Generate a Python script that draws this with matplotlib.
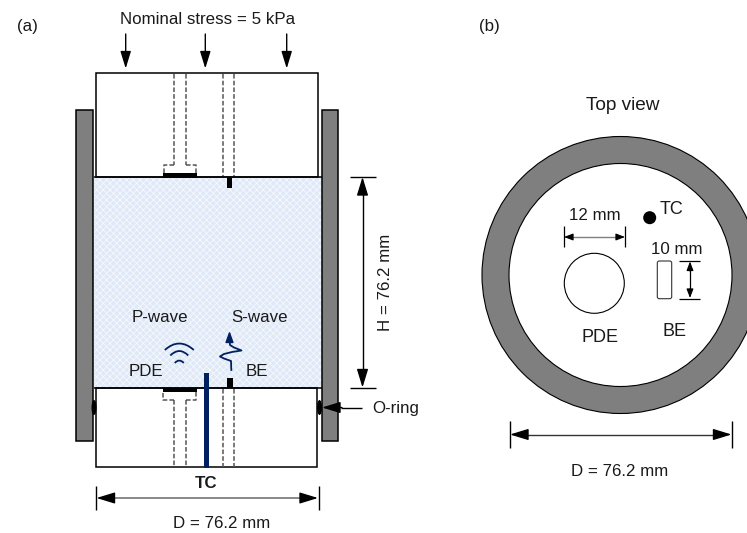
import matplotlib
matplotlib.use('Agg')
from matplotlib import pyplot as plt
from matplotlib.patches import Rectangle, Circle, Ellipse, FancyBboxPatch, PathPatch
from matplotlib.path import Path

plt.rcParams['font.family'] = ['Liberation Sans', 'DejaVu Sans']
plt.rcParams['hatch.linewidth'] = 0.6

# labels of the drawing
stress_label = 'Nominal stress = 5 kPa'
diameter_label = 'D = 76.2 mm'
height_label = 'H = 76.2 mm'
pde_width_label = '12 mm'
be_height_label = '10 mm'
wave_labels = ['P-wave', 'S-wave']

# geometry (pixels, y going down)
stress_x = [125.7, 205.3, 286.7]
top_stem_x = [173.7, 185.7, 222.5, 234.2]
bottom_stem_x = [173.7, 185.7, 222.7, 234.3]
membrane_x = [(75.7, 93.3), (321.5, 337.8)]
oring_x = [94, 319.5]
swave_x = [231.3, 231, 224, 220, 224, 232, 241.5, 234, 230, 229.5]
swave_y = [370, 361, 358.5, 356.5, 354, 352, 350.5, 347.5, 345, 338]
wifi_top = [343.5, 351, 360.5]
wifi_halfwidth = [14.5, 9, 4.5]
wifi_drop = [6.5, 4.5, 2.5]

GREY = '#7f7f7f'
NAVY = '#002060'
DASH = '#555555'
FS = 12.2

fig = plt.figure(figsize=(7.47, 5.33), dpi=100)
ax = fig.add_axes([0, 0, 1, 1])
ax.set_xlim(0, 747)
ax.set_ylim(533, 0)
ax.axis('off')


def rect(x0, y0, x1, y1, **kw):
    ax.add_patch(Rectangle((x0, y0), x1 - x0, y1 - y0, **kw))


def line(xs, ys, color='k', lw=1.0, **kw):
    ax.plot(xs, ys, color=color, lw=lw, solid_capstyle='butt', **kw)


def dashed(xs, ys):
    ax.plot(xs, ys, color=DASH, lw=1.1, ls=(0, (3.0, 1.4)), dash_capstyle='butt')


def arrow(x0, y0, x1, y1, lw=1.0, size=15, hl=0.75, hw=0.23):
    ax.annotate('', xy=(x1, y1), xytext=(x0, y0),
                arrowprops=dict(arrowstyle=f'-|>,head_length={hl},head_width={hw}', color='k',
                                lw=lw, shrinkA=0, shrinkB=0, mutation_scale=size, fc='k'))


def label(x, y, s, **kw):
    ax.text(x, y, s, ha='center', va='center', fontsize=kw.pop('fontsize', FS),
            color='#1a1a1a', **kw)


# panel letters
label(27, 27, '(a)')
label(489, 27, '(b)')

# (a) sample with hatch
rect(93.5, 177, 321.5, 388, fc='#dfe9f7', ec='#f6f9fd', hatch='xxxxx', lw=0, zorder=1)
line([93.5, 321.5], [177, 177], lw=1.1, zorder=3)
line([93.5, 321.5], [388, 388], lw=1.1, zorder=3)

# (a) membrane, o-rings
for x0, x1 in membrane_x:
    rect(x0, 109.5, x1, 440.7, fc=GREY, ec='k', lw=1.1, zorder=2)
for x in oring_x:
    ax.add_patch(Ellipse((x, 407.5), 5, 15, fc='k', ec='none', zorder=4))

# (a) platens
rect(95.8, 73, 318, 177, fc='white', ec='k', lw=1.1, zorder=2)
rect(96, 388, 317, 467, fc='white', ec='k', lw=1.1, zorder=2)

# (a) stress arrows
label(208, 19, stress_label)
for x in stress_x:
    arrow(x, 34, x, 68.5, size=14)

# (a) top platen elements
for x in top_stem_x[:2]:
    dashed([x, x], [73.5, 165])
dashed([173.7, 163.5, 163.5], [165, 165, 173])
dashed([185.7, 196, 196], [165, 165, 173])
for x in top_stem_x[2:]:
    dashed([x, x], [73.5, 176])
rect(163.3, 173.2, 196.7, 177.7, fc='k', ec='none', zorder=5)
rect(227, 177, 232, 188, fc='k', ec='none', zorder=5)

# (a) bottom platen elements
for x in bottom_stem_x[:2]:
    dashed([x, x], [400, 467])
dashed([173.7, 163.3, 163.3], [400, 400, 391])
dashed([185.7, 196, 196], [400, 400, 391])
for x in bottom_stem_x[2:]:
    dashed([x, x], [388.5, 467])
rect(163.3, 387.5, 196.7, 391.7, fc='k', ec='none', zorder=5)
rect(227, 378, 232.5, 388, fc='k', ec='none', zorder=5)
rect(204.3, 373, 209, 467.5, fc=NAVY, ec='none', zorder=5)

# (a) waves
label(160, 318, wave_labels[0], zorder=6)
label(260, 318, wave_labels[1], zorder=6)
label(146, 372, 'PDE', zorder=6)
label(257, 372, 'BE', zorder=6)
for top, hw, drop in zip(wifi_top, wifi_halfwidth, wifi_drop):
    p = Path([(179.3 - hw, top + drop), (179.3, top - drop), (179.3 + hw, top + drop)],
             [Path.MOVETO, Path.CURVE3, Path.CURVE3])
    ax.add_patch(PathPatch(p, fc='none', ec=NAVY, lw=1.3, zorder=6))
ax.plot(swave_x, swave_y, color=NAVY, lw=1.3, zorder=6)
ax.annotate('', xy=(229.5, 331), xytext=(229.5, 340),
            arrowprops=dict(arrowstyle='-|>,head_length=0.6,head_width=0.22', color=NAVY, lw=1.1,
                            shrinkA=0, shrinkB=0, mutation_scale=11), zorder=6)

# (a) dimensions
label(206, 483, 'TC', fontweight='bold')
line([96, 96], [485.7, 510])
line([318.5, 318.5], [485.7, 510])
line([112, 302], [498, 498], color=GREY, lw=1.3)
arrow(112, 498, 96.5, 498, size=15)
arrow(302, 498, 318, 498, size=15)
label(222, 523, diameter_label)

line([350, 376], [176.5, 176.5])
line([350, 376], [388, 388])
line([362.5, 362.5], [190, 375])
arrow(362.5, 192, 362.5, 177, size=15)
arrow(362.5, 373, 362.5, 387.5, size=15)
label(385, 282, height_label, rotation=90)

line([341, 362], [407.5, 407.5])
arrow(342, 407.5, 322, 407.5, size=15)
label(395.5, 408, 'O-ring')

# (b) top view
label(622.5, 106, 'Top view', fontsize=13.7)
ax.add_patch(Circle((620.5, 275), 138.5, fc=GREY, ec='k', lw=0.8))
ax.add_patch(Circle((620.5, 275), 111.5, fc='white', ec='k', lw=0.8))
ax.add_patch(Circle((594.3, 283.3), 30, fc='white', ec='k', lw=0.8))
ax.add_patch(Circle((649.7, 217.7), 6.5, fc='k', ec='none'))
ax.add_patch(FancyBboxPatch((659.3, 263), 10.4, 33.7, boxstyle='round,pad=2',
                            fc='white', ec='#333333', lw=0.8))

label(671, 209.5, 'TC', fontsize=13)
label(594.7, 216, pde_width_label)
line([563.5, 563.5], [226, 247], lw=0.9)
line([625.3, 625.3], [226, 247], lw=0.9)
line([570, 619], [237, 237], color=GREY, lw=1.0)
arrow(572, 237, 564, 237, size=9, lw=0.8, hl=0.6)
arrow(617, 237, 625, 237, size=9, lw=0.8, hl=0.6)
label(677, 249, be_height_label)
line([679, 700], [261, 261], lw=0.9)
line([679, 700], [298.5, 298.5], lw=0.9)
line([690, 690], [268, 292], lw=0.9)
arrow(690, 271, 690, 261.5, size=9, lw=0.8, hl=0.6)
arrow(690, 289, 690, 298, size=9, lw=0.8, hl=0.6)
label(600, 337, 'PDE', fontsize=13)
label(674, 332, 'BE', fontsize=13)

line([509.5, 509.5], [421, 448])
line([732, 732], [421, 448])
line([524, 718], [434.5, 434.5], color='#333333')
arrow(525, 434.5, 510, 434.5, size=15)
arrow(717, 434.5, 731.5, 434.5, size=15)
label(620, 471, diameter_label)

fig.savefig('out.png', dpi=100)
